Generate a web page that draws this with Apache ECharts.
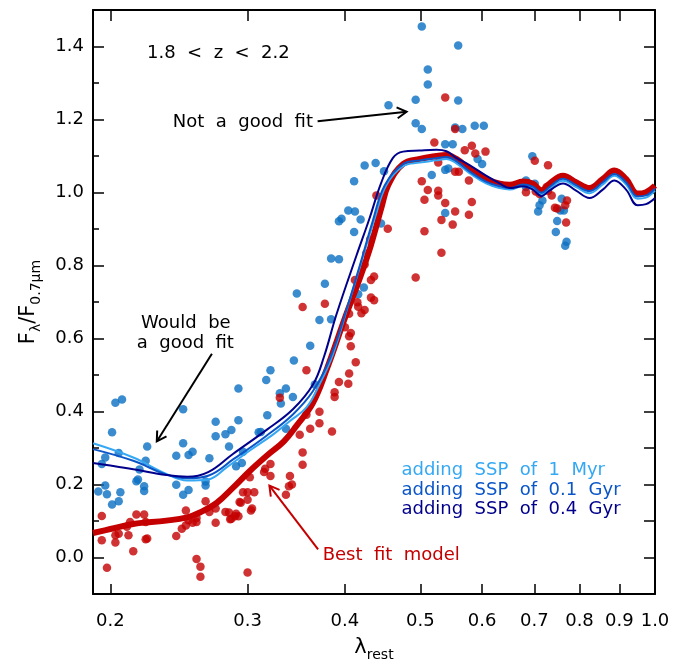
<!DOCTYPE html>
<html><head><meta charset="utf-8">
<script src="https://cdn.jsdelivr.net/npm/echarts@6/dist/echarts.min.js"></script>
<style>html,body{margin:0;padding:0;background:#fff}#c{width:688px;height:667px}</style>
</head><body><div id="c"></div><script>
// ---- data ----
const xTickValues = [0.2, 0.3, 0.4, 0.5, 0.6, 0.7, 0.8, 0.9, 1.0];
const yMajorTicks = [0.0, 0.2, 0.4, 0.6, 0.8, 1.0, 1.2, 1.4];

const bluePoints = [
[0.193,0.181],[0.195,0.256],[0.197,0.274],[0.197,0.197],[0.198,0.173],[0.201,0.343],[0.203,0.424],[0.207,0.433],
[0.205,0.286],[0.201,0.145],[0.205,0.154],[0.206,0.179],[0.216,0.209],[0.217,0.214],[0.218,0.241],[0.221,0.182],
[0.221,0.195],[0.222,0.265],[0.223,0.304],[0.243,0.279],[0.243,0.199],[0.248,0.406],[0.248,0.313],[0.248,0.172],
[0.252,0.185],[0.252,0.281],[0.255,0.290],[0.265,0.197],[0.265,0.208],[0.268,0.272],[0.273,0.372],[0.273,0.332],
[0.281,0.338],[0.286,0.349],[0.284,0.304],[0.292,0.376],[0.292,0.463],[0.290,0.250],[0.295,0.259],[0.296,0.290],
[0.310,0.343],[0.312,0.344],[0.317,0.486],[0.321,0.513],[0.318,0.390],[0.331,0.422],[0.330,0.450],[0.336,0.463],
[0.344,0.540],[0.343,0.440],[0.361,0.580],[0.366,0.474],[0.336,0.353],[0.371,0.651],[0.384,0.653],[0.377,0.750],
[0.347,0.723],[0.416,0.721],[0.423,0.740],[0.384,0.819],[0.393,0.817],[0.411,0.892],[0.445,0.915],[0.393,0.921],
[0.396,0.928],[0.419,0.926],[0.404,0.951],[0.412,0.948],[0.411,1.031],[0.449,1.058],[0.424,1.074],[0.438,1.081],
[0.502,1.455],[0.559,1.403],[0.511,1.337],[0.511,1.296],[0.455,1.239],[0.493,1.254],[0.559,1.252],[0.493,1.190],
[0.502,1.174],[0.554,1.178],[0.566,1.174],[0.587,1.183],[0.603,1.183],[0.538,1.132],[0.550,1.132],[0.592,1.092],
[0.600,1.078],[0.538,1.062],[0.543,1.066],[0.517,1.048],[0.538,0.944],
[0.696,1.099],[0.683,1.033],[0.683,1.015],[0.701,1.024],[0.717,0.978],[0.711,0.965],[0.708,0.948],[0.759,0.983],
[0.756,0.951],[0.764,0.951],[0.749,0.922],[0.746,0.892],[0.770,0.865],[0.767,0.854]
];

const redPoints = [
[0.195,0.114],[0.195,0.047],[0.198,-0.028],[0.203,0.061],[0.205,0.065],[0.203,0.041],[0.210,0.084],[0.212,0.097],
[0.211,0.061],[0.214,0.017],[0.216,0.118],[0.221,0.118],[0.222,0.097],[0.222,0.050],[0.223,0.052],[0.243,0.059],
[0.247,0.079],[0.250,0.088],[0.250,0.129],[0.252,0.102],[0.255,0.095],[0.258,0.097],[0.258,0.108],[0.258,-0.004],
[0.261,-0.025],[0.261,-0.053],[0.265,0.154],[0.268,0.125],[0.273,0.134],[0.273,0.095],[0.281,0.125],[0.285,0.105],
[0.289,0.113],[0.292,0.113],[0.293,0.152],[0.284,0.123],
[0.302,0.220],[0.296,0.179],[0.300,0.179],[0.306,0.179],[0.300,0.158],[0.294,0.150],[0.304,0.134],[0.303,0.129],
[0.290,0.120],[0.286,0.106],[0.300,-0.041],[0.321,0.256],[0.316,0.243],[0.315,0.234],[0.321,0.223],[0.340,0.223],
[0.342,0.200],[0.339,0.195],[0.336,0.172],[0.353,0.288],[0.353,0.254],[0.350,0.336],[0.385,0.345],[0.361,0.353],
[0.371,0.368],[0.357,0.391],[0.371,0.399],[0.330,0.438],[0.388,0.453],[0.388,0.440],[0.393,0.481],[0.404,0.476],
[0.405,0.504],[0.413,0.535],[0.357,0.513],
[0.407,0.579],[0.407,0.615],[0.405,0.606],[0.400,0.631],[0.405,0.668],[0.353,0.686],[0.377,0.695],[0.424,0.678],
[0.420,0.669],[0.415,0.699],[0.416,0.687],[0.432,0.712],[0.436,0.705],[0.412,0.760],[0.436,0.770],[0.432,0.760],
[0.424,0.803],[0.426,0.833],[0.431,0.871],[0.454,0.901],[0.439,0.992],
[0.538,1.260],[0.554,1.174],[0.521,1.137],[0.570,1.116],[0.582,1.128],[0.588,1.107],[0.606,1.112],[0.527,1.082],
[0.554,1.057],[0.560,1.057],[0.577,1.033],[0.502,1.031],[0.511,1.007],[0.527,1.005],[0.527,0.992],[0.506,0.980],
[0.538,0.971],[0.554,0.948],[0.582,0.974],[0.577,0.939],[0.532,0.925],[0.550,0.912],[0.506,0.894],[0.532,0.835],
[0.493,0.767],
[0.701,1.087],[0.729,1.075],[0.683,1.001],[0.726,1.015],[0.729,1.005],[0.703,1.003],[0.711,0.996],[0.737,0.992],
[0.744,0.958],[0.749,0.956],[0.771,0.978],[0.767,0.965],[0.769,0.918]
];

// model curves (wavelength, flux)
const bestLam = [0.190,0.200,0.214,0.236,0.251,0.261,0.274,0.287,0.302,0.318,0.334,0.347,0.364,0.379,0.400,0.418,0.432,0.446,0.455,0.475,0.499,0.524,0.540,0.556,0.578,0.607,0.632,0.651,0.677,0.697,0.715,0.732,0.762,0.792,0.824,0.857,0.887,0.918,0.950,0.974,1.0];
const bestFlux = [0.067,0.078,0.092,0.101,0.110,0.124,0.150,0.190,0.237,0.280,0.318,0.362,0.424,0.515,0.656,0.765,0.856,0.962,1.022,1.078,1.092,1.100,1.103,1.092,1.065,1.037,1.024,1.021,1.030,1.024,1.006,1.024,1.046,1.028,1.012,1.037,1.060,1.037,0.997,1.001,1.019];

const myr1Lam = [0.190,0.214,0.236,0.251,0.267,0.282,0.302,0.324,0.340,0.357,0.371,0.386,0.405,0.420,0.437,0.452,0.475,0.499,0.524,0.540,0.556,0.578,0.607,0.632,0.651,0.677,0.697,0.715,0.732,0.762,0.792,0.824,0.857,0.887,0.918,0.950,0.974,1.0];
const myr1Flux = [0.313,0.274,0.229,0.211,0.214,0.247,0.293,0.338,0.374,0.411,0.474,0.556,0.700,0.810,0.930,1.020,1.072,1.082,1.088,1.092,1.080,1.053,1.025,1.012,1.008,1.018,1.012,0.995,1.010,1.032,1.015,0.998,1.022,1.046,1.022,0.983,0.986,1.005];

const gyr01Lam = [0.190,0.214,0.236,0.251,0.267,0.288,0.317,0.343,0.364,0.383,0.402,0.418,0.434,0.450,0.475,0.499,0.524,0.540,0.556,0.578,0.607,0.632,0.651,0.677,0.697,0.715,0.732,0.762,0.792,0.824,0.857,0.887,0.918,0.950,0.974,1.0];
const gyr01Flux = [0.297,0.265,0.227,0.217,0.224,0.270,0.333,0.392,0.456,0.547,0.680,0.800,0.920,1.020,1.078,1.088,1.094,1.097,1.086,1.058,1.030,1.017,1.012,1.022,1.016,0.999,1.015,1.038,1.020,1.004,1.028,1.051,1.028,0.989,0.992,1.011];

const gyr04Lam = [0.190,0.200,0.214,0.236,0.251,0.267,0.287,0.318,0.343,0.364,0.376,0.390,0.414,0.430,0.445,0.461,0.475,0.499,0.524,0.540,0.556,0.578,0.607,0.632,0.651,0.677,0.697,0.715,0.732,0.762,0.792,0.824,0.857,0.887,0.918,0.950,0.974,1.0];
const gyr04Flux = [0.259,0.252,0.242,0.226,0.221,0.234,0.283,0.351,0.406,0.474,0.550,0.665,0.828,0.928,1.025,1.095,1.112,1.115,1.117,1.113,1.095,1.075,1.046,1.025,1.012,1.017,1.008,0.990,1.005,1.025,1.005,0.985,1.008,1.033,1.008,0.965,0.968,0.985];

const zip = (a, b) => a.map((v, i) => [v, b[i]]);

// ---- chart ----
const FONT = 'DejaVu Sans';
const chart = echarts.init(document.getElementById('c'), null, {renderer: 'canvas'});
const fmt1 = v => (Math.round(v * 10) / 10).toFixed(1);

const baseX = {
  type: 'log', logBase: 10, min: 0.19, max: 1.0,
  splitLine: {show: false}, minorTick: {show: false}, minorSplitLine: {show: false},
  axisLine: {show: true, onZero: false, lineStyle: {color: '#000', width: 2}},
};

chart.setOption({
  backgroundColor: '#fff',
  animation: false,
  grid: {left: 93, right: 33, top: 10, bottom: 70, containLabel: false},
  xAxis: [
    Object.assign({}, baseX, {
      position: 'bottom',
      axisTick: {show: true, inside: true, length: 10, customValues: xTickValues, lineStyle: {color: '#000', width: 1.5}},
      axisLabel: {show: true, customValues: xTickValues, formatter: v => fmt1(v), fontSize: 18, fontFamily: FONT, color: '#000', margin: 18},
      name: '{a|λ}{s|rest}', nameLocation: 'middle', nameGap: 40,
      nameTextStyle: {rich: {
        a: {fontSize: 21, fontFamily: FONT, color: '#000', lineHeight: 28, verticalAlign: 'middle'},
        s: {fontSize: 14, fontFamily: FONT, color: '#000', lineHeight: 14, verticalAlign: 'bottom'}
      }}
    }),
    Object.assign({}, baseX, {
      position: 'top',
      axisTick: {show: true, inside: true, length: 11, customValues: xTickValues, lineStyle: {color: '#000', width: 1.5}},
      axisLabel: {show: false}
    })
  ],
  yAxis: [
    {
      type: 'value', min: -0.1, max: 1.5, interval: 0.1, position: 'left',
      splitLine: {show: false},
      axisLine: {show: true, onZero: false, lineStyle: {color: '#000', width: 2}},
      axisTick: {show: true, inside: true, length: 6, lineStyle: {color: '#000', width: 1.5}},
      axisLabel: {
        show: true, fontSize: 18, fontFamily: FONT, color: '#000', margin: 9,
        formatter: v => { const k = Math.round(v * 10); return (k % 2 === 0 && k >= 0) ? fmt1(v) : ''; }
      },
      name: '{a|F}{s|λ}{a|/F}{s|0.7μm}', nameLocation: 'middle', nameRotate: 90, nameGap: 50,
      nameTextStyle: {rich: {
        a: {fontSize: 21, fontFamily: FONT, color: '#000', lineHeight: 28, verticalAlign: 'middle'},
        s: {fontSize: 14, fontFamily: FONT, color: '#000', lineHeight: 14, verticalAlign: 'bottom'}
      }}
    },
    {
      type: 'value', min: -0.1, max: 1.5, position: 'left',
      splitLine: {show: false},
      axisLine: {show: false, onZero: false},
      axisTick: {show: true, inside: true, length: 11, customValues: yMajorTicks, lineStyle: {color: '#000', width: 1.5}},
      axisLabel: {show: false}
    },
    {
      type: 'value', min: -0.1, max: 1.5, interval: 0.1, position: 'right',
      splitLine: {show: false},
      axisLine: {show: true, onZero: false, lineStyle: {color: '#000', width: 2}},
      axisTick: {show: true, inside: true, length: 11, lineStyle: {color: '#000', width: 1.5}},
      axisLabel: {show: false}
    }
  ],
  series: [
    {type: 'scatter', name: 'blue', data: bluePoints, symbol: 'circle', symbolSize: 8.5,
     itemStyle: {color: '#0a6fc2'}, z: 2},
    {type: 'scatter', name: 'red', data: redPoints, symbol: 'circle', symbolSize: 8.5,
     itemStyle: {color: '#c40000'}, z: 2},
    {type: 'line', name: 'Best fit model', data: zip(bestLam, bestFlux), smooth: 0.4, showSymbol: false,
     lineStyle: {color: '#c40000', width: 6}, z: 3},
    {type: 'line', name: 'adding SSP of 1 Myr', data: zip(myr1Lam, myr1Flux), smooth: 0.4, showSymbol: false,
     lineStyle: {color: '#35a8f4', width: 2}, z: 4},
    {type: 'line', name: 'adding SSP of 0.1 Gyr', data: zip(gyr01Lam, gyr01Flux), smooth: 0.4, showSymbol: false,
     lineStyle: {color: '#0a55c8', width: 2}, z: 4},
    {type: 'line', name: 'adding SSP of 0.4 Gyr', data: zip(gyr04Lam, gyr04Flux), smooth: 0.4, showSymbol: false,
     lineStyle: {color: '#00008c', width: 2}, z: 4}
  ]
});

// ---- annotations anchored in data coordinates ----
const P = (lam, f) => chart.convertToPixel({xAxisIndex: 0, yAxisIndex: 0}, [lam, f]);
function arrow(from, to, color) {
  const a = P(from[0], from[1]), b = P(to[0], to[1]);
  const dx = b[0] - a[0], dy = b[1] - a[1], L = Math.hypot(dx, dy);
  const ux = dx / L, uy = dy / L, h = 11, ang = Math.PI / 6;
  const rot = (x, y, t) => [x * Math.cos(t) - y * Math.sin(t), x * Math.sin(t) + y * Math.cos(t)];
  const r1 = rot(-ux, -uy, ang), r2 = rot(-ux, -uy, -ang);
  return [
    {type: 'line', shape: {x1: a[0], y1: a[1], x2: b[0], y2: b[1]}, style: {stroke: color, lineWidth: 2}, z: 10},
    {type: 'polyline', shape: {points: [[b[0] + r1[0] * h, b[1] + r1[1] * h], b, [b[0] + r2[0] * h, b[1] + r2[1] * h]]},
     style: {stroke: color, lineWidth: 2, fill: null}, z: 10}
  ];
}
function label(txt, lam, f, color, align) {
  const p = P(lam, f);
  return {type: 'text', x: p[0], y: p[1], z: 10,
    style: {text: txt, fill: color, font: '18px "' + FONT + '"', align: align || 'left', verticalAlign: 'middle'}};
}
const g = [];
g.push(label('1.8  <  z  <  2.2', 0.2229, 1.381, '#000', 'left'));
g.push(label('Not  a  good  fit', 0.364, 1.193, '#000', 'right'));
g.push(...arrow([0.369, 1.195], [0.480, 1.221], '#000'));
g.push(label('Would  be', 0.250, 0.642, '#000', 'center'));
g.push(label('a  good  fit', 0.2496, 0.588, '#000', 'center'));
g.push(...arrow([0.270, 0.558], [0.2294, 0.318], '#000'));
g.push(label('Best  fit  model', 0.3745, 0.006, '#c40000', 'left'));
g.push(...arrow([0.3695, 0.022], [0.320, 0.197], '#c40000'));
g.push(label('adding  SSP  of  1  Myr', 0.4727, 0.240, '#35a8f4', 'left'));
g.push(label('adding  SSP  of  0.1  Gyr', 0.4727, 0.185, '#0a55c8', 'left'));
g.push(label('adding  SSP  of  0.4  Gyr', 0.4727, 0.131, '#00008c', 'left'));
chart.setOption({graphic: g});
</script></body></html>
